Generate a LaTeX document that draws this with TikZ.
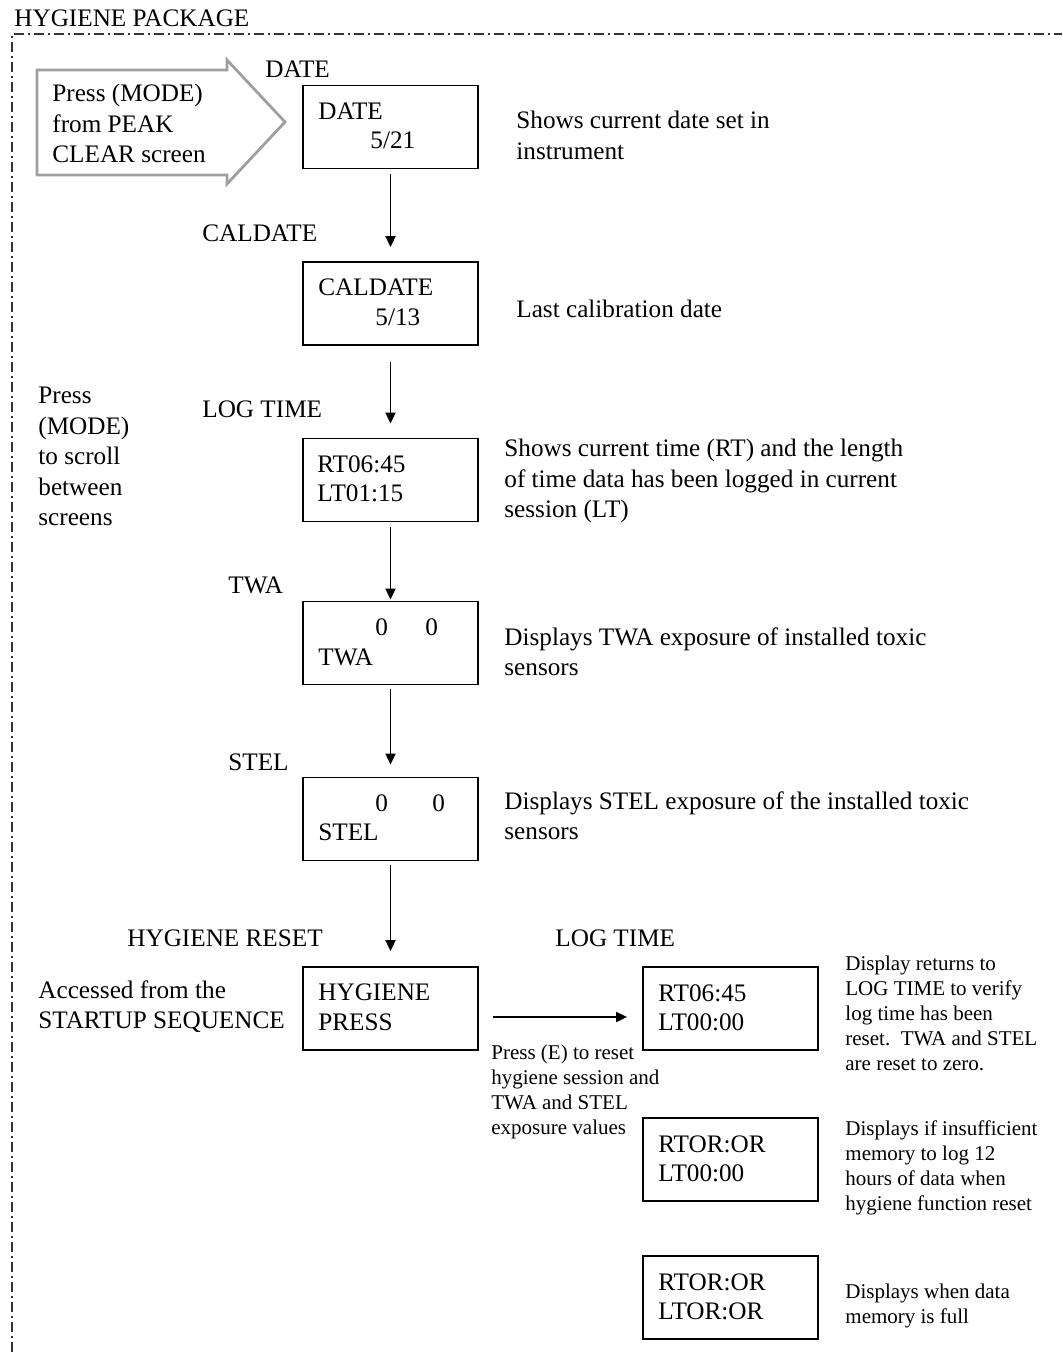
\documentclass[tikz,border=0pt]{standalone}
\usepackage{fontspec}
\setmainfont{Liberation Serif}
\usetikzlibrary{arrows.meta}

\begin{document}
\begin{tikzpicture}[x=0.5pt,y=-0.5pt,
  screen/.style={draw,line width=0.9pt,minimum width=87.5pt,minimum height=41.5pt,inner sep=0pt},
  lbl/.style={anchor=west,inner sep=0pt,font=\fontsize{12.6}{15}\selectfont},
  txt/.style={anchor=north west,inner sep=0pt,align=left,font=\fontsize{12.6}{15.2}\selectfont},
  small/.style={anchor=north west,inner sep=0pt,align=left,font=\fontsize{10.5}{12.5}\selectfont},
  flow/.style={-{Triangle[length=5.5pt,width=5pt]},line width=0.9pt}]
  \useasboundingbox (0,0) rectangle (1062,1352);
  % package frame
  \draw[line width=0.6pt,black!80,dash pattern=on 5pt off 2pt on 1pt off 2pt] (12,1352)--(12,34)--(1062,34);
  \node[lbl] (title) at (14,18) {HYGIENE PACKAGE};
  % entry arrow
  \draw[gray!75,line width=1.4pt,line join=miter] (37,70)--(227,70)--(227,60)--(285,122)--(227,184)--(227,175)--(37,175)--cycle;
  \node[txt] (entry) at (52,84) {Press (MODE)\\from PEAK\\CLEAR screen};
  \node[txt] (scroll) at (38,387) {Press\\(MODE)\\to scroll\\between\\screens};
  \node[txt] (access) at (38,980) {Accessed from the\\STARTUP SEQUENCE};
  % main column
  \node[lbl] (ldate) at (265,69) {DATE};
  \node[screen] (date) at (390.5,127) {};
  \node[lbl] (date1) at (318,111) {DATE};
  \node[lbl] (date2) at (370,140) {5/21};
  \node[txt] (datenote) at (516,111) {Shows current date set in\\instrument};

  \node[lbl] (lcal) at (202,233) {CALDATE};
  \node[screen] (cal) at (390.5,303.5) {};
  \node[lbl] (cal1) at (318,287) {CALDATE};
  \node[lbl] (cal2) at (375,317) {5/13};
  \node[lbl] (calnote) at (516,309) {Last calibration date};

  \node[lbl] (llog) at (202,409) {LOG TIME};
  \node[screen] (log) at (390.5,480) {};
  \node[lbl] (log1) at (317,464) {RT06:45};
  \node[lbl] (log2) at (317,493) {LT01:15};
  \node[txt] (lognote) at (504,439) {Shows current time (RT) and the length\\of time data has been logged in current\\session (LT)};

  \node[lbl] (ltwa) at (228,585) {TWA};
  \node[screen] (twa) at (390.5,643) {};
  \node[lbl] (twa1) at (375,627) {0};
  \node[lbl] (twa2) at (425,627) {0};
  \node[lbl] (twa3) at (318,657) {TWA};
  \node[txt] (twanote) at (504,627) {Displays TWA exposure of installed toxic\\sensors};

  \node[lbl] (lstel) at (228,762) {STEL};
  \node[screen] (stel) at (390.5,819) {};
  \node[lbl] (stel1) at (375,803) {0};
  \node[lbl] (stel2) at (432,803) {0};
  \node[lbl] (stel3) at (318,832) {STEL};
  \node[txt] (stelnote) at (504,791) {Displays STEL exposure of the installed toxic\\sensors};

  \node[lbl] (lhyg) at (127,938) {HYGIENE RESET};
  \node[screen] (hyg) at (390.5,1008.5) {};
  \node[lbl] (hyg1) at (318,992) {HYGIENE};
  \node[lbl] (hyg2) at (318,1022) {PRESS};
  \node[small] (hygnote) at (491,1045) {Press (E) to reset\\hygiene session and\\TWA and STEL\\exposure values};
  % reset results
  \node[lbl] (lreset) at (555,938) {LOG TIME};
  \node[screen] (res) at (730.5,1008.5) {};
  \node[lbl] (res1) at (658,993) {RT06:45};
  \node[lbl] (res2) at (658,1022) {LT00:00};
  \node[small] (resnote) at (845,956) {Display returns to\\LOG TIME to verify\\log time has been\\reset.\ \ TWA and STEL\\are reset to zero.};
  \node[screen] (low) at (730.5,1159.5) {};
  \node[lbl] (low1) at (658,1144) {RTOR:OR};
  \node[lbl] (low2) at (658,1173) {LT00:00};
  \node[small] (lownote) at (845,1120) {Displays if insufficient\\memory to log 12\\hours of data when\\hygiene function reset};
  \node[screen] (full) at (730.5,1297.5) {};
  \node[lbl] (full1) at (658,1282) {RTOR:OR};
  \node[lbl] (full2) at (658,1311) {LTOR:OR};
  \node[small] (fullnote) at (845,1284) {Displays when data\\memory is full};
  % connectors
  \draw[flow,shorten <=2.5pt,shorten >=7pt] (date) -- (cal);
  \draw[flow,shorten <=8pt,shorten >=7pt] (cal) -- (log);
  \draw[flow,shorten <=2.5pt,shorten >=0.5pt] (log) -- (twa);
  \draw[flow,shorten <=2pt,shorten >=6pt] (twa) -- (stel);
  \draw[flow,shorten <=2pt,shorten >=7.5pt] (stel) -- (hyg);
  \draw[flow,shorten <=7pt,shorten >=7.5pt] ([yshift=-4.25pt]hyg.east) -- ([yshift=-4.25pt]res.west);
\end{tikzpicture}
\end{document}
